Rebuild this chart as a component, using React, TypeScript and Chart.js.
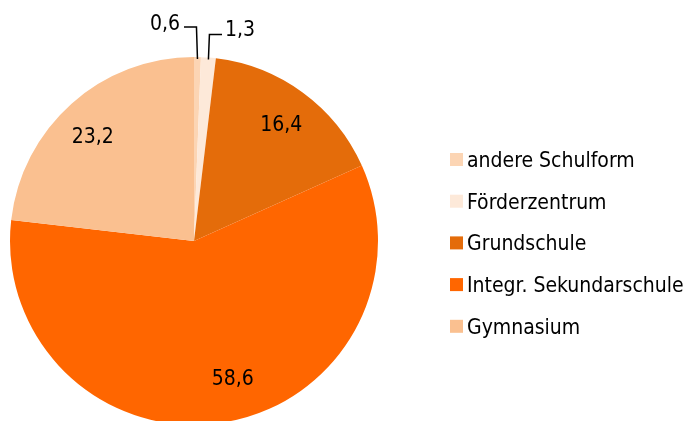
import React, { useEffect, useRef } from "react";
import { Chart, registerables } from "chart.js";

Chart.register(...registerables);

const categories = [
  "andere Schulform",
  "Förderzentrum",
  "Grundschule",
  "Integr. Sekundarschule",
  "Gymnasium",
];
const values = [0.6, 1.3, 16.4, 58.6, 23.2];
const valueLabels = ["0,6", "1,3", "16,4", "58,6", "23,2"];
const colors = ["#FCD5B4", "#FDE9D9", "#E46C0A", "#FF6600", "#FAC090"];

const FONT = "21px 'DejaVu Sans Condensed', 'DejaVu Sans', sans-serif";

const labelPlugin = {
  id: "labelPlugin",
  afterDraw(chart: any) {
    const ctx = chart.ctx;
    const meta = chart.getDatasetMeta(0);
    ctx.save();
    ctx.font = FONT;
    ctx.fillStyle = "#000";
    ctx.strokeStyle = "#000";
    ctx.lineWidth = 1.5;
    ctx.textBaseline = "middle";
    meta.data.forEach((arc: any, i: number) => {
      const p = arc.getProps(["x", "y", "startAngle", "endAngle", "outerRadius"], true);
      const mid = (p.startAngle + p.endAngle) / 2;
      if (values[i] < 5) {
        const ex = p.x + Math.cos(mid) * p.outerRadius;
        const ey = p.y + Math.sin(mid) * p.outerRadius + 2;
        ctx.beginPath();
        if (i === 0) {
          ctx.moveTo(ex, ey);
          ctx.lineTo(ex - 1, 27);
          ctx.lineTo(184, 27);
          ctx.stroke();
          ctx.textAlign = "right";
          ctx.fillText(valueLabels[i], 180, 25);
        } else {
          ctx.moveTo(ex, ey);
          ctx.lineTo(ex + 1, 34.5);
          ctx.lineTo(222, 34.5);
          ctx.stroke();
          ctx.textAlign = "left";
          ctx.fillText(valueLabels[i], 225, 30.5);
        }
      } else {
        const shift = i === 3 ? -0.12 : i === 4 ? -0.03 : 0;
        const a = mid + shift;
        const r = p.outerRadius * (i === 3 ? 0.78 : 0.8);
        ctx.textAlign = "center";
        ctx.fillText(valueLabels[i], p.x + Math.cos(a) * r, p.y + Math.sin(a) * r + (i === 3 ? 0 : 3));
      }
    });
    categories.forEach((c, i) => {
      const cy = 160 + i * 41.7;
      ctx.fillStyle = colors[i];
      ctx.fillRect(450, cy - 7, 13, 13);
      ctx.fillStyle = "#000";
      ctx.textAlign = "left";
      ctx.fillText(c, 467, cy + 1.5);
    });
    ctx.restore();
  },
};

export default function App() {
  const ref = useRef<HTMLCanvasElement>(null);
  useEffect(() => {
    if (!ref.current) return;
    const chart = new Chart(ref.current, {
      type: "pie",
      data: {
        labels: categories,
        datasets: [
          {
            data: values,
            backgroundColor: colors,
            borderWidth: 0,
          },
        ],
      },
      options: {
        responsive: false,
        animation: false,
        layout: { padding: { left: 10, top: 57, right: 308, bottom: 15 } },
        plugins: {
          legend: { display: false },
          tooltip: { enabled: false },
        },
      },
      plugins: [labelPlugin],
    });
    return () => chart.destroy();
  }, []);
  return (
    <div
      style={{
        position: "fixed",
        left: 0,
        top: 0,
        width: 686,
        height: 421,
        overflow: "hidden",
        background: "#fff",
      }}
    >
      <canvas ref={ref} width={686} height={440} style={{ display: "block" }} />
    </div>
  );
}
